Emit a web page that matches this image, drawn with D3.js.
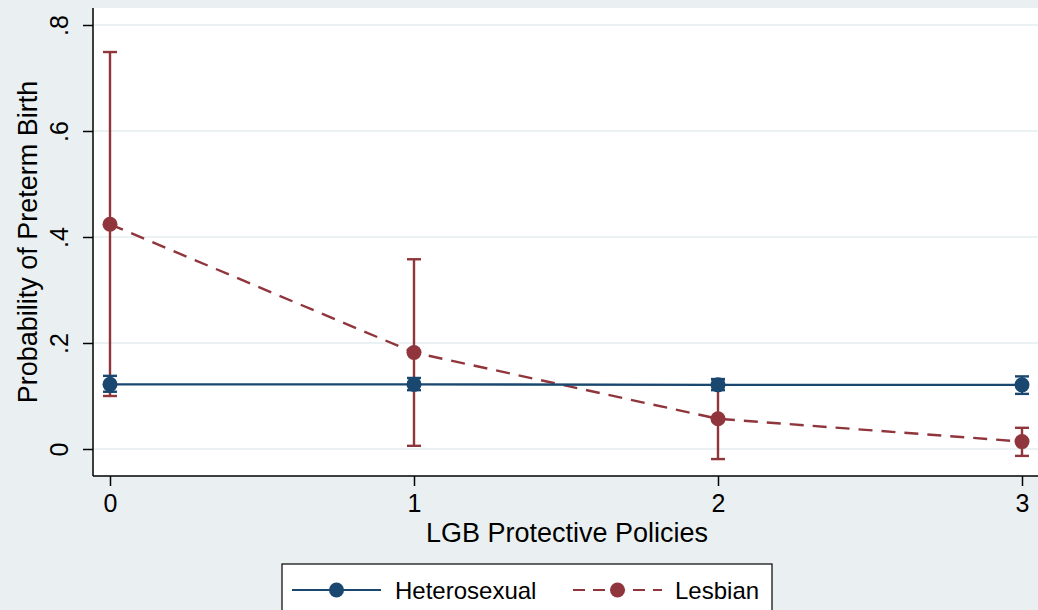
<!DOCTYPE html>
<html lang="en">
<head>
  <meta charset="UTF-8">
  <title>Preterm birth</title>
</head>
<body>
<style>
  * {
    padding: 0;
    margin: 0;
  }

  body {
    background: #eaf0f1;
  }

  #app svg {
    display: block;
    font-family: "Liberation Sans", Arial, Helvetica, sans-serif;
  }
</style>

<div id="app"></div>

<script src="https://cdn.jsdelivr.net/npm/d3@7/dist/d3.min.js"></script>
<script>
  // data
  var policies = [0, 1, 2, 3];
  var yTicks = [0, 0.2, 0.4, 0.6, 0.8];
  var yTickLabels = ["0", ".2", ".4", ".6", ".8"];

  var heteroEst = [0.122, 0.122, 0.121, 0.121];
  var heteroLo = [0.108, 0.111, 0.111, 0.104];
  var heteroHi = [0.138, 0.134, 0.132, 0.137];

  var lesbianEst = [0.424, 0.182, 0.057, 0.014];
  var lesbianLo = [0.100, 0.006, -0.019, -0.013];
  var lesbianHi = [0.749, 0.358, 0.131, 0.040];

  var seriesNames = ["Heterosexual", "Lesbian"];
  var colors = ["#1a476f", "#90353b"];

  function draw() {
    var width = 1038, height = 610,
      plotLeft = 93, plotRight = 1041, plotTop = 8, plotBottom = 476;

    var svg = d3.select('#app').append('svg')
      .attr('width', width).attr('height', height)
      .attr('viewBox', '0,0 ' + width + ',' + height);

    svg.append('rect').attr('width', width).attr('height', height).attr('fill', '#eaf0f1');

    // plot region
    svg.append('rect')
      .attr('x', plotLeft).attr('y', plotTop)
      .attr('width', plotRight - plotLeft).attr('height', plotBottom - plotTop)
      .attr('fill', '#ffffff');

    var x = d3.scaleLinear().domain([0, 3]).range([110, 1022]);
    var y = d3.scaleLinear().domain([0, 0.8]).range([449, 25]);

    // gridlines
    svg.append('g').selectAll('line').data(yTicks).join('line')
      .attr('x1', plotLeft).attr('x2', plotRight)
      .attr('y1', d => y(d)).attr('y2', d => y(d))
      .attr('stroke', '#eaf2f3').attr('stroke-width', 2);

    // y axis
    var yAxis = d3.axisLeft(y).tickValues(yTicks)
      .tickFormat((d, i) => yTickLabels[i]).tickSize(10).tickPadding(0);
    var gy = svg.append('g').attr('transform', 'translate(' + plotLeft + ',0)').call(yAxis);
    gy.select('.domain').remove();
    gy.selectAll('.tick line').attr('stroke', '#000').attr('stroke-width', 1.5);
    gy.selectAll('.tick text')
      .attr('x', 0).attr('y', 0).attr('dy', null)
      .attr('transform', 'translate(-25,0) rotate(-90)')
      .attr('text-anchor', 'middle')
      .attr('font-size', 25).attr('fill', '#000');
    svg.append('line')
      .attr('x1', plotLeft).attr('x2', plotLeft).attr('y1', plotTop).attr('y2', plotBottom)
      .attr('stroke', '#000').attr('stroke-width', 1.5);

    // x axis
    var xAxis = d3.axisBottom(x).tickValues(policies)
      .tickFormat(d3.format('d')).tickSize(10).tickPadding(8);
    var gx = svg.append('g').attr('transform', 'translate(0,' + plotBottom + ')').call(xAxis);
    gx.select('.domain').remove();
    gx.selectAll('.tick line').attr('stroke', '#000').attr('stroke-width', 1.5);
    gx.selectAll('.tick text').attr('font-size', 25).attr('fill', '#000');
    svg.append('line')
      .attr('x1', plotLeft).attr('x2', plotRight).attr('y1', plotBottom).attr('y2', plotBottom)
      .attr('stroke', '#000').attr('stroke-width', 1.5);

    // axis titles
    svg.append('text')
      .attr('transform', 'translate(36.5,' + ((plotTop + plotBottom) / 2) + ') rotate(-90)')
      .attr('text-anchor', 'middle').attr('font-size', 27).attr('fill', '#000')
      .text('Probability of Preterm Birth');
    svg.append('text')
      .attr('x', (plotLeft + plotRight) / 2).attr('y', 542)
      .attr('text-anchor', 'middle').attr('font-size', 27).attr('fill', '#000')
      .text('LGB Protective Policies');

    var series = [
      {est: heteroEst, lo: heteroLo, hi: heteroHi, color: colors[0], dash: null},
      {est: lesbianEst, lo: lesbianLo, hi: lesbianHi, color: colors[1], dash: '14,9'}
    ];

    var line = d3.line().x((d, i) => x(policies[i])).y(d => y(d));

    // error bars first (lesbian behind heterosexual)
    series.slice().reverse().forEach(function (s) {
      var g = svg.append('g');
      g.selectAll('line.bar').data(policies).join('line').attr('class', 'bar')
        .attr('x1', d => x(d)).attr('x2', d => x(d))
        .attr('y1', (d, i) => y(s.lo[i])).attr('y2', (d, i) => y(s.hi[i]))
        .attr('stroke', s.color).attr('stroke-width', 2.4);
      g.selectAll('line.capLo').data(policies).join('line').attr('class', 'capLo')
        .attr('x1', d => x(d) - 7).attr('x2', d => x(d) + 7)
        .attr('y1', (d, i) => y(s.lo[i])).attr('y2', (d, i) => y(s.lo[i]))
        .attr('stroke', s.color).attr('stroke-width', 2.4);
      g.selectAll('line.capHi').data(policies).join('line').attr('class', 'capHi')
        .attr('x1', d => x(d) - 7).attr('x2', d => x(d) + 7)
        .attr('y1', (d, i) => y(s.hi[i])).attr('y2', (d, i) => y(s.hi[i]))
        .attr('stroke', s.color).attr('stroke-width', 2.4);
    });

    series.slice().reverse().forEach(function (s) {
      svg.append('path')
        .attr('d', line(s.est))
        .attr('fill', 'none').attr('stroke', s.color).attr('stroke-width', 2.4)
        .attr('stroke-dasharray', s.dash);
      svg.append('g').selectAll('circle').data(s.est).join('circle')
        .attr('cx', (d, i) => x(policies[i])).attr('cy', d => y(d)).attr('r', 7.5)
        .attr('fill', s.color);
    });

    // legend
    var legend = svg.append('g');
    legend.append('rect')
      .attr('x', 282).attr('y', 564).attr('width', 490).attr('height', 60)
      .attr('fill', '#ffffff').attr('stroke', '#000').attr('stroke-width', 1.2);
    var legendX = [[292, 381, 395], [573, 662, 675]];
    series.forEach(function (s, i) {
      var lx = legendX[i];
      legend.append('line')
        .attr('x1', lx[0]).attr('x2', lx[1]).attr('y1', 590).attr('y2', 590)
        .attr('stroke', s.color).attr('stroke-width', 2.2)
        .attr('stroke-dasharray', s.dash ? '12,8' : null);
      legend.append('circle')
        .attr('cx', (lx[0] + lx[1]) / 2).attr('cy', 590).attr('r', 7.5)
        .attr('fill', s.color);
      legend.append('text')
        .attr('x', lx[2]).attr('y', 599).attr('font-size', 24).attr('fill', '#000')
        .text(seriesNames[i]);
    });
  }

  draw();
</script>

</body>
</html>
